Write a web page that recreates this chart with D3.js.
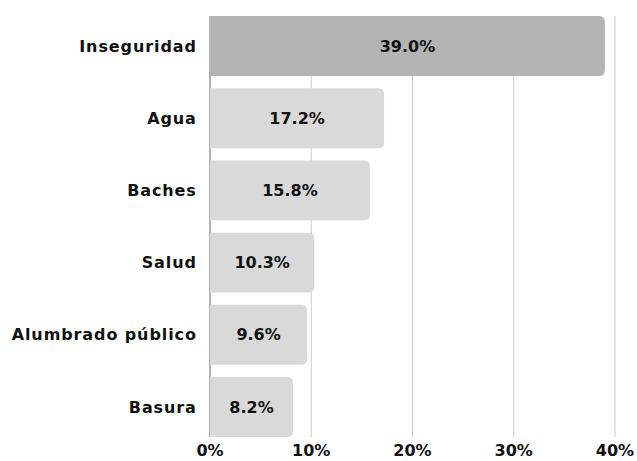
<!DOCTYPE html>
<html>
<head>
<meta charset="utf-8">
<script src="https://cdn.jsdelivr.net/npm/d3@7"></script>
<style>
  body { margin: 0; background: #fff; }
  text { font-family: "DejaVu Sans", sans-serif; font-weight: 700; fill: #111; }
</style>
</head>
<body>
<div id="chart"></div>
<script>
const categories = ["Inseguridad", "Agua", "Baches", "Salud", "Alumbrado público", "Basura"];
const values = [39.0, 17.2, 15.8, 10.3, 9.6, 8.2];
const ticks = [0, 10, 20, 30, 40];

const margin = {top: 16, right: 22, bottom: 24, left: 210},
    width = 637 - margin.left - margin.right,
    height = 461 - margin.top - margin.bottom;

const data = categories.map((c, i) => ({cat: c, val: values[i]}));

const svg = d3.select("#chart")
    .append("svg")
    .attr("width", 637)
    .attr("height", 461)
    .append("g")
    .attr("transform", "translate(" + margin.left + "," + margin.top + ")");

const x = d3.scaleLinear().domain([0, 40]).range([0, 405]);
const y = d3.scaleBand().domain(categories).range([0, 421]).paddingInner(0.17).paddingOuter(0);

// grid
svg.selectAll(".grid")
    .data(ticks.slice(1))
    .enter()
    .append("line")
    .attr("x1", d => x(d)).attr("x2", d => x(d))
    .attr("y1", 0).attr("y2", 421)
    .attr("stroke", "#cccccc").attr("stroke-width", 1);

svg.append("line")
    .attr("x1", 0).attr("x2", 0).attr("y1", 0).attr("y2", 421)
    .attr("stroke", "#666").attr("stroke-width", 1);

// bars, rounded on the right only
const r = 6;
svg.selectAll(".bar")
    .data(data)
    .enter()
    .append("path")
    .attr("fill", (d, i) => i === 0 ? "#b3b3b3" : "#d9d9d9")
    .attr("d", d => {
        const w = x(d.val), y0 = y(d.cat), h = y.bandwidth();
        return `M0,${y0}H${w - r}Q${w},${y0} ${w},${y0 + r}V${y0 + h - r}Q${w},${y0 + h} ${w - r},${y0 + h}H0Z`;
    });

svg.selectAll(".val")
    .data(data)
    .enter()
    .append("text")
    .attr("x", d => x(d.val) / 2)
    .attr("y", d => y(d.cat) + y.bandwidth() / 2)
    .attr("dy", "0.35em")
    .attr("text-anchor", "middle")
    .style("font-size", "16px")
    .text(d => d.val.toFixed(1) + "%");

svg.selectAll(".cat")
    .data(data)
    .enter()
    .append("text")
    .attr("x", -13.2)
    .attr("y", d => y(d.cat) + y.bandwidth() / 2)
    .attr("dy", "0.35em")
    .attr("text-anchor", "end")
    .style("font-size", "16px")
    .style("letter-spacing", "0.9px")
    .text(d => d.cat);

svg.selectAll(".tick")
    .data(ticks)
    .enter()
    .append("text")
    .attr("x", d => x(d))
    .attr("y", 440)
    .attr("text-anchor", "middle")
    .style("font-size", "16px")
    .text(d => d + "%");
</script>
</body>
</html>
